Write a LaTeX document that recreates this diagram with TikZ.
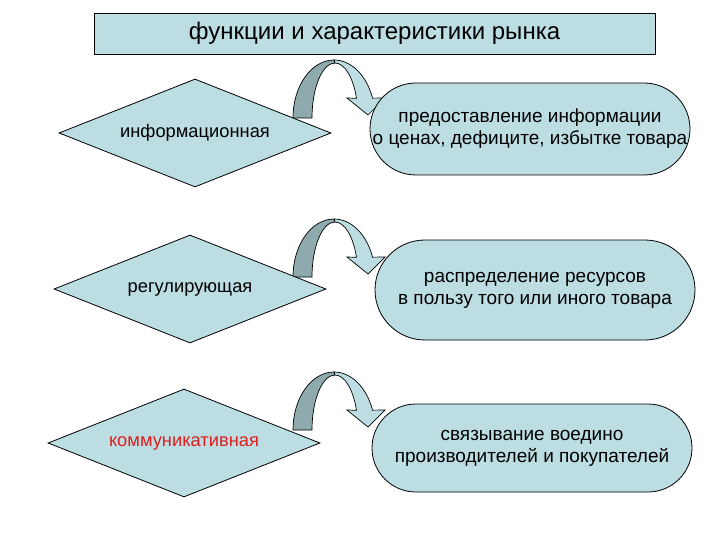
\documentclass[tikz,border=0pt]{standalone}
\usepackage{fontspec}
\setmainfont{Liberation Sans}
\usetikzlibrary{shapes.geometric}
\definecolor{lblue}{RGB}{188,222,226}
\definecolor{dteal}{RGB}{143,170,172}
\definecolor{txtred}{RGB}{222,30,30}
\tikzset{
  dia/.style={diamond, shape aspect=2.5, draw=black, line width=0.8pt, fill=lblue,
    minimum width=272pt, minimum height=108pt, inner sep=0pt,
    font=\fontsize{18.3}{21}\selectfont},
  pill/.style={rectangle, draw=black, line width=0.8pt, fill=lblue,
    minimum width=320pt, align=center, inner sep=0pt,
    font=\fontsize{19}{22}\selectfont},
  titlebox/.style={rectangle, draw=black, line width=0.9pt, fill=lblue,
    minimum width=561pt, minimum height=41pt, inner sep=0pt,
    font=\fontsize{24}{27}\selectfont},
  curvarr/.pic={
    \draw[line width=0.7pt, fill=dteal]
      (-41,0) arc[start angle=180,end angle=90,x radius=41pt,y radius=58pt]
      -- (1,-55) arc[start angle=90,end angle=180,x radius=23pt,y radius=55pt]
      -- cycle;
    \draw[line width=0.7pt, fill=lblue]
      (0,-58) arc[start angle=90,end angle=20,x radius=41pt,y radius=58pt]
      -- (51,-20) -- (34,-3) -- (13,-20) -- (22.5,-19.7)
      arc[start angle=21,end angle=90,x radius=23pt,y radius=55pt]
      -- cycle;
  }
}
\begin{document}
\begin{tikzpicture}[x=1pt,y=-1pt]
\useasboundingbox[fill=white] (0,0) rectangle (720,540);

\node[titlebox] (title) at (374.5,33.5) {функции и характеристики рынка};

\pic at (334,118) {curvarr};
\pic at (334,277) {curvarr};
\pic at (334,430) {curvarr};

\node[dia] (d1) at (195,133) {информационная};
\node[dia] (d2) at (190,289) {регулирующая};
\node[dia, text=txtred] (d3) at (184,443) {коммуникативная};

\node[pill, minimum height=92pt, rounded corners=46pt] (p1) at (530,129)
  {предоставление информации\\о ценах, дефиците, избытке товара};
\node[pill, minimum height=100pt, rounded corners=50pt] (p2) at (535,290)
  {распределение ресурсов\\в пользу того или иного товара};
\node[pill, minimum height=88pt, rounded corners=44pt] (p3) at (532,448)
  {связывание воедино\\производителей и покупателей};
\end{tikzpicture}
\end{document}
